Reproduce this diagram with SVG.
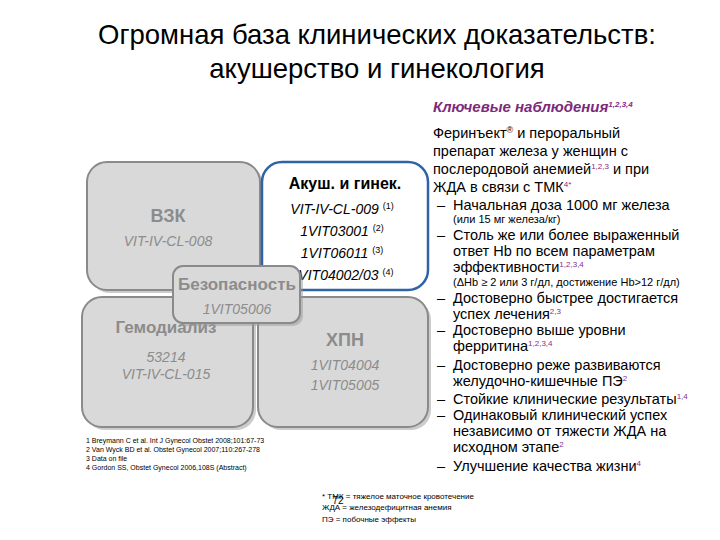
<svg xmlns="http://www.w3.org/2000/svg" width="720" height="540" viewBox="0 0 720 540">
<style>
text{font-family:"Liberation Sans",Arial,sans-serif}
.box{fill:#d9d9d9;stroke:#8a8a8a;stroke-width:2}
.sh{fill:#9a9a9a;opacity:.5}
.gt{fill:#8c8c8c;font-weight:bold;text-anchor:middle}
.gi{fill:#8c8c8c;font-style:italic;font-size:14px;text-anchor:middle}
.bi{fill:#000;font-style:italic;font-size:14px;text-anchor:middle}
.r{font-size:14.5px;fill:#000}
.s{font-size:11px;fill:#000}
.fn{font-size:7px;fill:#000}
.sup{font-size:8px;fill:#8b2a8b}
</style>
<rect width="720" height="540" fill="#fff"/>
<text x="377" y="44" font-size="27.5" text-anchor="middle">Огромная база клинических доказательств:</text>
<text x="377" y="78" font-size="27.5" text-anchor="middle">акушерство и гинекология</text>
<g id="vzk"><rect class="sh" x="90" y="165" width="173" height="128" rx="20"/><rect class="box" x="87" y="162" width="173" height="128" rx="20"/>
<text class="gt" x="168" y="222" font-size="18">ВЗК</text><text class="gi" x="168" y="246">VIT-IV-CL-008</text></g>
<g id="akush"><rect x="262" y="162" width="166" height="128" rx="20" fill="#fff" stroke="#2e63a8" stroke-width="2.5"/>
<text x="345" y="189" font-size="16" font-weight="bold" text-anchor="middle">Акуш. и гинек.</text>
<text class="bi" x="342" y="214">VIT-IV-CL-009 <tspan font-size="9" font-style="normal" dy="-5">(1)</tspan></text>
<text class="bi" x="342" y="236">1VIT03001 <tspan font-size="9" font-style="normal" dy="-5">(2)</tspan></text>
<text class="bi" x="342" y="258">1VIT06011 <tspan font-size="9" font-style="normal" dy="-5">(3)</tspan></text>
<text class="bi" x="342" y="280">1VIT04002/03 <tspan font-size="9" font-style="normal" dy="-5">(4)</tspan></text></g>
<g id="gemo"><rect class="sh" x="85" y="300" width="171" height="130" rx="20"/><rect class="box" x="82" y="297" width="171" height="130" rx="20"/>
<text class="gt" x="166" y="333" font-size="17">Гемодиализ</text><text class="gi" x="166" y="362">53214</text><text class="gi" x="166" y="379">VIT-IV-CL-015</text></g>
<g id="hpn"><rect class="sh" x="261" y="300" width="170" height="130" rx="20"/><rect class="box" x="258" y="297" width="170" height="130" rx="20"/>
<text class="gt" x="345" y="346" font-size="18">ХПН</text><text class="gi" x="345" y="370">1VIT04004</text><text class="gi" x="345" y="390">1VIT05005</text></g>
<g id="bez"><rect class="sh" x="176" y="269" width="127" height="57" rx="10"/><rect class="box" x="173" y="266" width="127" height="57" rx="10"/>
<text class="gt" x="237" y="290" font-size="17">Безопасность</text><text class="gi" x="237" y="314">1VIT05006</text></g>
<g id="refs"><text class="fn" x="86" y="443">1 Breymann C et al. Int J Gynecol Obstet 2008;101:67-73</text>
<text class="fn" x="86" y="452">2 Van Wyck BD et al. Obstet Gynecol 2007;110:267-278</text>
<text class="fn" x="86" y="461">3 Data on file</text>
<text class="fn" x="86" y="470">4 Gordon SS, Obstet Gynecol 2006,108S (Abstract)</text></g>
<g id="right">
<text x="433" y="112" font-size="15" font-weight="bold" font-style="italic" fill="#7b2a7b">Ключевые наблюдения<tspan class="sup" dy="-5">1,2,3,4</tspan></text>
<text class="r" x="433" y="138">Феринъект<tspan font-size="9" dy="-5">®</tspan><tspan dy="5"> и пероральный</tspan></text>
<text class="r" x="433" y="156">препарат железа у женщин с</text>
<text class="r" x="433" y="174">послеродовой анемией<tspan class="sup" dy="-5">1,2,3</tspan><tspan dy="5"> и при</tspan></text>
<text class="r" x="433" y="192">ЖДА в связи с ТМК<tspan class="sup" dy="-5">4*</tspan></text>
<g class="r">
<text x="437" y="210">–</text><text x="453" y="210">Начальная доза 1000 мг железа</text>
<text class="s" x="453" y="223">(или 15 мг железа/кг)</text>
<text x="437" y="240">–</text><text x="453" y="240">Столь же или более выраженный</text>
<text x="453" y="256">ответ Hb по всем параметрам</text>
<text x="453" y="272">эффективности<tspan class="sup" dy="-5">1,2,3,4</tspan></text>
<text class="s" x="453" y="286">(ΔHb ≥ 2 или 3 г/дл, достижение Hb&gt;12 г/дл)</text>
<text x="437" y="303">–</text><text x="453" y="303">Достоверно быстрее достигается</text>
<text x="453" y="319">успех лечения<tspan class="sup" dy="-5">2,3</tspan></text>
<text x="437" y="335">–</text><text x="453" y="335">Достоверно выше уровни</text>
<text x="453" y="351">ферритина<tspan class="sup" dy="-5">1,2,3,4</tspan></text>
<text x="437" y="370">–</text><text x="453" y="370">Достоверно реже развиваются</text>
<text x="453" y="386">желудочно-кишечные ПЭ<tspan class="sup" dy="-5">2</tspan></text>
<text x="437" y="404">–</text><text x="453" y="404">Стойкие клинические результаты<tspan class="sup" dy="-5">1,4</tspan></text>
<text x="437" y="420">–</text><text x="453" y="420">Одинаковый клинический успех</text>
<text x="453" y="436">независимо от тяжести ЖДА на</text>
<text x="453" y="452">исходном этапе<tspan class="sup" dy="-5">2</tspan></text>
<text x="437" y="471">–</text><text x="453" y="471">Улучшение качества жизни<tspan class="sup" dy="-5">4</tspan></text>
</g></g>
<g id="notes">
<text x="322" y="499" font-size="8">* ТМК = тяжелое маточное кровотечение</text>
<text x="322" y="510" font-size="8">ЖДА = железодефицитная анемия</text>
<text x="322" y="522" font-size="8">ПЭ = побочные эффекты</text>
<text x="338" y="504" font-size="10" text-anchor="middle">72</text></g>
</svg>
